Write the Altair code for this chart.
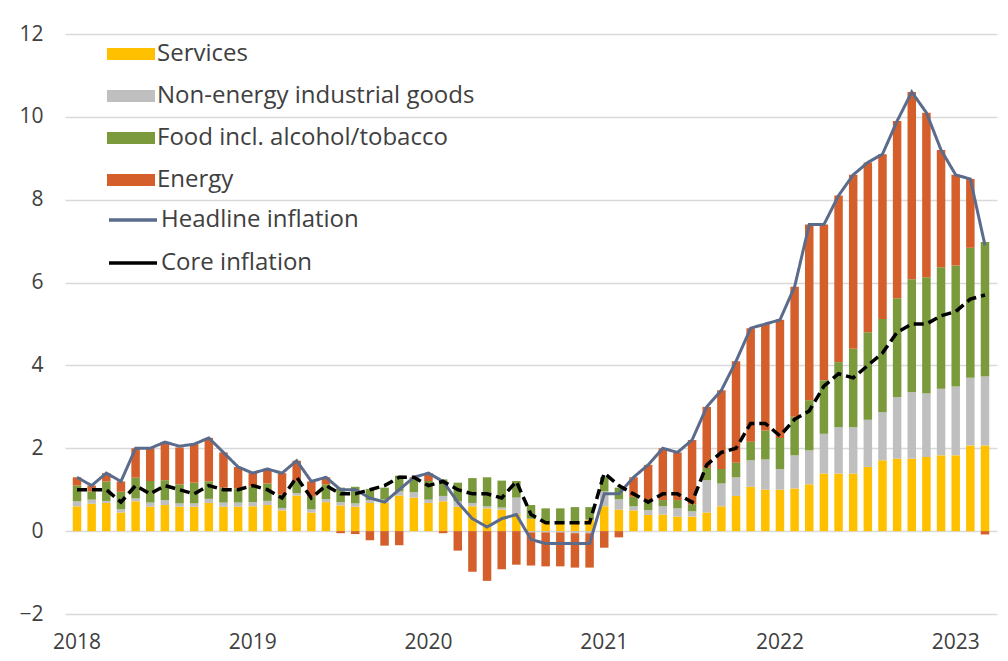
import altair as alt
import pandas as pd

# ---- data (contributions in percentage points, annual rates in %) ----
months = [f"{y}-{m:02d}" for y in range(2018, 2024) for m in range(1, 13)][:63]
year_ticks = ["2018-01", "2019-01", "2020-01", "2021-01", "2022-01", "2023-01"]

services = [
    .60, .66, .68, .45, .72, .59, .63, .59, .59, .68, .59, .59,
    .60, .63, .50, .86, .45, .70, .62, .59, .68, .68, .86, .81,
    .68, .72, .59, .60, .55, .52, .41, .30, .20, .20, .23, .28,
    .60, .52, .50, .39, .40, .35, .35, .45, .60, .85, 1.07, 1.00,
    1.00, 1.03, 1.13, 1.39, 1.39, 1.39, 1.55, 1.71, 1.75, 1.75, 1.79, 1.83,
    1.83, 2.07, 2.07]
neig = [
    .12, .10, .05, .08, .07, .10, .12, .08, .08, .10, .10, .10,
    .10, .10, .06, .06, .08, .07, .08, .08, .07, .08, .10, .13,
    .08, .13, .13, .08, .05, .05, .40, -.03, -.03, -.03, -.05, -.05,
    .36, .25, .10, .12, .20, .20, .13, .78, .55, .45, .64, .73,
    .50, .80, .82, .96, 1.12, 1.12, 1.14, 1.16, 1.49, 1.61, 1.53, 1.61,
    1.66, 1.63, 1.66]
food = [
    .38, .20, .47, .42, .50, .52, .48, .46, .50, .42, .36, .34,
    .38, .42, .32, .28, .30, .36, .35, .40, .27, .29, .38, .34,
    .45, .40, .45, .60, .70, .65, .40, .33, .35, .35, .35, .30,
    .34, .28, .23, .20, .15, .20, .17, .30, .35, .35, .45, .70,
    .75, .93, 1.21, 1.29, 1.57, 1.89, 2.11, 2.25, 2.38, 2.72, 2.81, 2.93,
    2.92, 3.14, 3.25]
energy = [
    .20, .14, .20, .25, .71, .79, .92, .89, .93, 1.05, .85, .52,
    .32, .35, .52, .50, .37, .17, -.05, -.07, -.22, -.35, -.34, .02,
    .19, -.05, -.47, -.98, -1.20, -.92, -.81, -.80, -.82, -.82, -.83, -.83,
    -.40, -.15, .47, .89, 1.25, 1.15, 1.55, 1.47, 1.90, 2.45, 2.74, 2.57,
    2.85, 3.14, 4.24, 3.76, 4.02, 4.20, 4.10, 3.98, 4.28, 4.52, 3.97, 2.83,
    2.19, 1.66, -.08]
headline = [
    1.3, 1.1, 1.4, 1.2, 2.0, 2.0, 2.15, 2.05, 2.1, 2.25, 1.9, 1.55,
    1.4, 1.5, 1.4, 1.7, 1.2, 1.3, 1.0, 1.0, 0.8, 0.7, 1.0, 1.3,
    1.4, 1.2, 0.7, 0.3, 0.1, 0.3, 0.4, -0.2, -0.3, -0.3, -0.3, -0.3,
    0.9, 0.9, 1.3, 1.6, 2.0, 1.9, 2.2, 3.0, 3.4, 4.1, 4.9, 5.0,
    5.1, 5.9, 7.4, 7.4, 8.1, 8.6, 8.9, 9.1, 9.9, 10.6, 10.1, 9.2,
    8.6, 8.5, 6.9]
core = [
    1.0, 1.0, 1.0, 0.7, 1.1, 0.9, 1.1, 1.0, 0.9, 1.1, 1.0, 1.0,
    1.1, 1.0, 0.8, 1.3, 0.8, 1.1, 0.9, 0.9, 1.0, 1.1, 1.3, 1.3,
    1.1, 1.2, 1.0, 0.9, 0.9, 0.8, 1.2, 0.4, 0.2, 0.2, 0.2, 0.2,
    1.4, 1.1, 0.9, 0.7, 0.9, 0.9, 0.7, 1.6, 1.9, 2.0, 2.6, 2.6,
    2.3, 2.7, 2.9, 3.5, 3.8, 3.7, 4.0, 4.3, 4.8, 5.0, 5.0, 5.2,
    5.3, 5.6, 5.7]

components = ["Services", "Non-energy industrial goods",
              "Food incl. alcohol/tobacco", "Energy"]
comp_colors = ["#FFC000", "#BFBFBF", "#7A9A3C", "#D45F2B"]
lines_names = ["Headline inflation", "Core inflation"]
line_colors = ["#5A6B8C", "#000000"]

# ---- tables ----
bar_rows = []
for k, (name, vals) in enumerate(zip(components, [services, neig, food, energy])):
    for m, v in zip(months, vals):
        bar_rows.append({"month": m, "component": name, "ord": k, "value": v})
bar_df = pd.DataFrame(bar_rows)

line_rows = []
for name, vals in zip(lines_names, [headline, core]):
    for m, v in zip(months, vals):
        line_rows.append({"month": m, "series": name, "value": v})
line_df = pd.DataFrame(line_rows)

FONT = "Open Sans"
TXT = "#404040"

x_enc = alt.X(
    "month:O",
    title=None,
    scale=alt.Scale(paddingInner=0.42, paddingOuter=0.53),
    axis=alt.Axis(values=year_ticks, labelExpr="slice(datum.value, 0, 4)",
                  labelAngle=0, ticks=False, domain=False, grid=False,
                  labelFontSize=21, labelColor=TXT, labelFont=FONT,
                  labelPadding=17, labelOverlap=False),
)
y_scale = alt.Scale(domain=[-2, 12], nice=False)
y_axis = alt.Axis(values=[-2, 0, 2, 4, 6, 8, 10, 12], ticks=False, domain=False,
                  grid=True, gridColor="#D9D9D9", gridWidth=1.5,
                  labelFontSize=21, labelColor=TXT, labelFont=FONT,
                  labelPadding=22, title=None)

bars = alt.Chart(bar_df).mark_bar().encode(
    x=x_enc,
    y=alt.Y("value:Q", stack="zero", scale=y_scale, axis=y_axis),
    color=alt.Color(
        "component:N",
        scale=alt.Scale(domain=components, range=comp_colors),
        legend=alt.Legend(
            title=None, orient="none", legendX=54, legendY=8,
            symbolType="M-2,-0.5H2V0.5H-2Z", symbolSize=576,
            symbolStrokeWidth=0, symbolOpacity=1,
            labelFont=FONT, labelFontSize=24, labelColor=TXT,
            labelOffset=14, labelLimit=600, rowPadding=18, padding=0,
        ),
    ),
    order=alt.Order("ord:Q", sort="ascending"),
)

line_legend = alt.Legend(
    title=None, orient="none", legendX=54, legendY=172,
    symbolType="M-2,0H2", symbolSize=576, symbolStrokeWidth=3.5,
    labelFont=FONT, labelFontSize=24, labelColor=TXT,
    labelOffset=14, labelLimit=600, rowPadding=17, padding=0,
)

lines = alt.Chart(line_df).mark_line().encode(
    x=alt.X("month:O"),
    y=alt.Y("value:Q", scale=y_scale),
    color=alt.Color("series:N",
                    scale=alt.Scale(domain=lines_names, range=line_colors),
                    sort=lines_names, legend=line_legend),
    strokeDash=alt.StrokeDash("series:N",
                              scale=alt.Scale(domain=lines_names,
                                              range=[[1, 0], [10, 5]]),
                              sort=lines_names, legend=line_legend),
    size=alt.Size("series:N",
                  scale=alt.Scale(domain=lines_names, range=[3, 3.5]),
                  legend=None),
)

chart = (
    alt.layer(bars, lines)
    .resolve_scale(color="independent")
    .properties(
        width=932, height=580,
        autosize=alt.AutoSizeParams(type="none"),
        padding={"left": 57, "top": 26, "right": 3, "bottom": 39},
        background="white",
    )
    .configure_view(stroke=None)
)

chart.save("out.html", embed_options={"renderer": "svg", "actions": False})
